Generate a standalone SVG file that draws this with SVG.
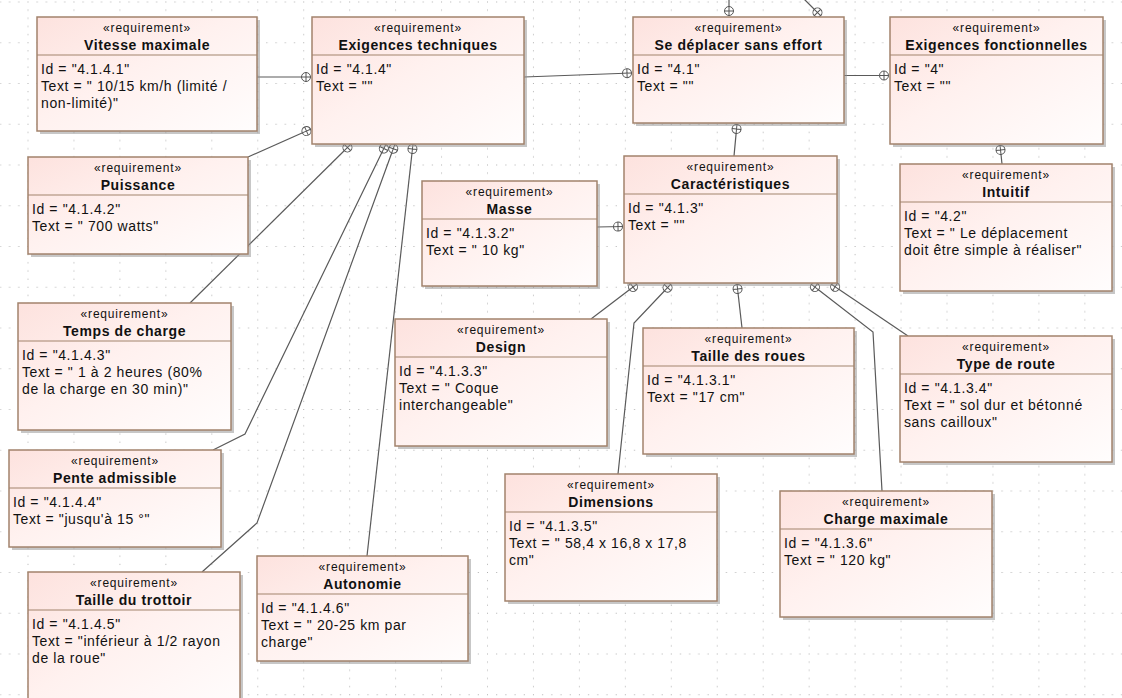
<svg xmlns="http://www.w3.org/2000/svg" width="1122" height="698" viewBox="0 0 1122 698">
<style>
.b{fill:url(#g);stroke:#a2836c;stroke-width:1.5}
.sh{fill:#8f8f8f;opacity:.5}
.sep{stroke:#a2836c;stroke-width:1.2}
.st{font-family:"Liberation Sans",Arial,sans-serif;font-size:12px;letter-spacing:.8px;text-anchor:middle;fill:#111}
.ti{font-family:"Liberation Sans",Arial,sans-serif;font-size:14px;font-weight:bold;letter-spacing:.6px;text-anchor:middle;fill:#111}
.tx{font-family:"Liberation Sans",Arial,sans-serif;font-size:14px;letter-spacing:.6px;fill:#111}
.cn{fill:none;stroke:#5a5a5a;stroke-width:1.2;marker-end:url(#cont)}
</style>
<defs>
<linearGradient id="g" x1="0" y1="0" x2="1" y2="1">
<stop offset="0" stop-color="#fde2de"/>
<stop offset="0.45" stop-color="#fff1ef"/>
<stop offset="1" stop-color="#fffdfd"/>
</linearGradient>
<pattern id="grid" x="27.5" y="1.5" width="45.95" height="40.75" patternUnits="userSpaceOnUse">
<g fill="#b0b0b0">
<rect x="0" y="0" width="1" height="1"/><rect x="9.19" y="0" width="1" height="1"/><rect x="18.38" y="0" width="1" height="1"/><rect x="27.57" y="0" width="1" height="1"/><rect x="36.76" y="0" width="1" height="1"/>
<rect x="0" y="8.15" width="1" height="1"/><rect x="0" y="16.3" width="1" height="1"/><rect x="0" y="24.45" width="1" height="1"/><rect x="0" y="32.6" width="1" height="1"/>
</g>
</pattern>
<marker id="cont" markerUnits="userSpaceOnUse" markerWidth="12" markerHeight="12" viewBox="-11 -6 12 12" refX="0" refY="0" orient="auto" overflow="visible">
<circle cx="-5" cy="0" r="4.5" fill="#fff" stroke="#555" stroke-width="1"/>
<path d="M-9.5 0H-0.5M-5 -4.5V4.5" stroke="#555" stroke-width="1"/>
</marker>
</defs>
<rect width="1122" height="698" fill="#fff"/>
<rect width="1122" height="698" fill="url(#grid)"/>

<g id="connectors">
<path class="cn" d="M257 77 L311 77"/>
<path class="cn" d="M248 157 L311 129"/>
<path class="cn" d="M190 303 L351 144"/>
<path class="cn" d="M213 450 L245 434 L386 144"/>
<path class="cn" d="M202 572 L257 523 L395 144"/>
<path class="cn" d="M367 556 L413 144"/>
<path class="cn" d="M524 77 L632 73"/>
<path class="cn" d="M844 75.5 L889 75.5"/>
<path class="cn" d="M734 156 L737 124"/>
<path class="cn" d="M1002 164 L1000 145"/>
<path class="cn" d="M597 227 L623 226.5"/>
<path class="cn" d="M591 319 L637 284"/>
<path class="cn" d="M618 474 L634 323 L671 284"/>
<path class="cn" d="M742 328 L737 284"/>
<path class="cn" d="M882 491 L873 332 L811 284"/>
<path class="cn" d="M908 336 L831 284"/>
<path class="cn" d="M729 -10 L729 16"/>
<path class="cn" d="M804 -1 L821 16"/>
</g>

<g id="n-vitesse" transform="translate(37,17)">
<rect class="sh" x="3" y="3" width="220" height="114"/><rect class="b" width="220" height="114"/><line class="sep" x1="0" y1="38" x2="220" y2="38"/>
<text class="st" x="110" y="14.5">«requirement»</text><text class="ti" x="110" y="33">Vitesse maximale</text>
<text class="tx" x="4" y="56.5">Id = "4.1.4.1"</text><text class="tx" x="4" y="73.5">Text = " 10/15 km/h (limité /</text><text class="tx" x="4" y="90.5">non-limité)"</text>
</g>

<g id="n-exigtech" transform="translate(312,17)">
<rect class="sh" x="3" y="3" width="212" height="127"/><rect class="b" width="212" height="127"/><line class="sep" x1="0" y1="38" x2="212" y2="38"/>
<text class="st" x="106" y="14.5">«requirement»</text><text class="ti" x="106" y="33">Exigences techniques</text>
<text class="tx" x="4" y="56.5">Id = "4.1.4"</text><text class="tx" x="4" y="73.5">Text = ""</text>
</g>

<g id="n-sedeplacer" transform="translate(633,17)">
<rect class="sh" x="3" y="3" width="211" height="106"/><rect class="b" width="211" height="106"/><line class="sep" x1="0" y1="38" x2="211" y2="38"/>
<text class="st" x="105.5" y="14.5">«requirement»</text><text class="ti" x="105.5" y="33">Se déplacer sans effort</text>
<text class="tx" x="4" y="56.5">Id = "4.1"</text><text class="tx" x="4" y="73.5">Text = ""</text>
</g>

<g id="n-exigfonc" transform="translate(890,17)">
<rect class="sh" x="3" y="3" width="213" height="127"/><rect class="b" width="213" height="127"/><line class="sep" x1="0" y1="38" x2="213" y2="38"/>
<text class="st" x="106.5" y="14.5">«requirement»</text><text class="ti" x="106.5" y="33">Exigences fonctionnelles</text>
<text class="tx" x="4" y="56.5">Id = "4"</text><text class="tx" x="4" y="73.5">Text = ""</text>
</g>

<g id="n-puissance" transform="translate(28,157)">
<rect class="sh" x="3" y="3" width="220" height="97"/><rect class="b" width="220" height="97"/><line class="sep" x1="0" y1="38" x2="220" y2="38"/>
<text class="st" x="110" y="14.5">«requirement»</text><text class="ti" x="110" y="33">Puissance</text>
<text class="tx" x="4" y="56.5">Id = "4.1.4.2"</text><text class="tx" x="4" y="73.5">Text = " 700 watts"</text>
</g>

<g id="n-caracteristiques" transform="translate(624,156)">
<rect class="sh" x="3" y="3" width="213" height="127"/><rect class="b" width="213" height="127"/><line class="sep" x1="0" y1="38" x2="213" y2="38"/>
<text class="st" x="106.5" y="14.5">«requirement»</text><text class="ti" x="106.5" y="33">Caractéristiques</text>
<text class="tx" x="4" y="56.5">Id = "4.1.3"</text><text class="tx" x="4" y="73.5">Text = ""</text>
</g>

<g id="n-intuitif" transform="translate(900,164)">
<rect class="sh" x="3" y="3" width="212" height="127"/><rect class="b" width="212" height="127"/><line class="sep" x1="0" y1="38" x2="212" y2="38"/>
<text class="st" x="106" y="14.5">«requirement»</text><text class="ti" x="106" y="33">Intuitif</text>
<text class="tx" x="4" y="56.5">Id = "4.2"</text><text class="tx" x="4" y="73.5">Text = " Le déplacement</text><text class="tx" x="4" y="90.5">doit être simple à réaliser"</text>
</g>

<g id="n-masse" transform="translate(422,181)">
<rect class="sh" x="3" y="3" width="175" height="105"/><rect class="b" width="175" height="105"/><line class="sep" x1="0" y1="38" x2="175" y2="38"/>
<text class="st" x="87.5" y="14.5">«requirement»</text><text class="ti" x="87.5" y="33">Masse</text>
<text class="tx" x="4" y="56.5">Id = "4.1.3.2"</text><text class="tx" x="4" y="73.5">Text = " 10 kg"</text>
</g>

<g id="n-temps" transform="translate(18,303)">
<rect class="sh" x="3" y="3" width="213" height="127"/><rect class="b" width="213" height="127"/><line class="sep" x1="0" y1="38" x2="213" y2="38"/>
<text class="st" x="106.5" y="14.5">«requirement»</text><text class="ti" x="106.5" y="33">Temps de charge</text>
<text class="tx" x="4" y="56.5">Id = "4.1.4.3"</text><text class="tx" x="4" y="73.5">Text = " 1 à 2 heures (80%</text><text class="tx" x="4" y="90.5">de la charge en 30 min)"</text>
</g>

<g id="n-design" transform="translate(395,319)">
<rect class="sh" x="3" y="3" width="212" height="127"/><rect class="b" width="212" height="127"/><line class="sep" x1="0" y1="38" x2="212" y2="38"/>
<text class="st" x="106" y="14.5">«requirement»</text><text class="ti" x="106" y="33">Design</text>
<text class="tx" x="4" y="56.5">Id = "4.1.3.3"</text><text class="tx" x="4" y="73.5">Text = " Coque</text><text class="tx" x="4" y="90.5">interchangeable"</text>
</g>

<g id="n-tailleroues" transform="translate(643,328)">
<rect class="sh" x="3" y="3" width="211" height="126"/><rect class="b" width="211" height="126"/><line class="sep" x1="0" y1="38" x2="211" y2="38"/>
<text class="st" x="105.5" y="14.5">«requirement»</text><text class="ti" x="105.5" y="33">Taille des roues</text>
<text class="tx" x="4" y="56.5">Id = "4.1.3.1"</text><text class="tx" x="4" y="73.5">Text = "17 cm"</text>
</g>

<g id="n-typeroute" transform="translate(900,336)">
<rect class="sh" x="3" y="3" width="212" height="126"/><rect class="b" width="212" height="126"/><line class="sep" x1="0" y1="38" x2="212" y2="38"/>
<text class="st" x="106" y="14.5">«requirement»</text><text class="ti" x="106" y="33">Type de route</text>
<text class="tx" x="4" y="56.5">Id = "4.1.3.4"</text><text class="tx" x="4" y="73.5">Text = " sol dur et bétonné</text><text class="tx" x="4" y="90.5">sans cailloux"</text>
</g>

<g id="n-pente" transform="translate(9,450)">
<rect class="sh" x="3" y="3" width="212" height="97"/><rect class="b" width="212" height="97"/><line class="sep" x1="0" y1="38" x2="212" y2="38"/>
<text class="st" x="106" y="14.5">«requirement»</text><text class="ti" x="106" y="33">Pente admissible</text>
<text class="tx" x="4" y="56.5">Id = "4.1.4.4"</text><text class="tx" x="4" y="73.5">Text = "jusqu'à 15 °"</text>
</g>

<g id="n-dimensions" transform="translate(505,474)">
<rect class="sh" x="3" y="3" width="212" height="127"/><rect class="b" width="212" height="127"/><line class="sep" x1="0" y1="38" x2="212" y2="38"/>
<text class="st" x="106" y="14.5">«requirement»</text><text class="ti" x="106" y="33">Dimensions</text>
<text class="tx" x="4" y="56.5">Id = "4.1.3.5"</text><text class="tx" x="4" y="73.5">Text = " 58,4 x 16,8 x 17,8</text><text class="tx" x="4" y="90.5">cm"</text>
</g>

<g id="n-chargemax" transform="translate(780,491)">
<rect class="sh" x="3" y="3" width="212" height="126"/><rect class="b" width="212" height="126"/><line class="sep" x1="0" y1="38" x2="212" y2="38"/>
<text class="st" x="106" y="14.5">«requirement»</text><text class="ti" x="106" y="33">Charge maximale</text>
<text class="tx" x="4" y="56.5">Id = "4.1.3.6"</text><text class="tx" x="4" y="73.5">Text = " 120 kg"</text>
</g>

<g id="n-autonomie" transform="translate(257,556)">
<rect class="sh" x="3" y="3" width="211" height="105"/><rect class="b" width="211" height="105"/><line class="sep" x1="0" y1="38" x2="211" y2="38"/>
<text class="st" x="105.5" y="14.5">«requirement»</text><text class="ti" x="105.5" y="33">Autonomie</text>
<text class="tx" x="4" y="56.5">Id = "4.1.4.6"</text><text class="tx" x="4" y="73.5">Text = " 20-25 km par</text><text class="tx" x="4" y="90.5">charge"</text>
</g>

<g id="n-trottoir" transform="translate(28,572)">
<rect class="sh" x="3" y="3" width="212" height="140"/><rect class="b" width="212" height="140"/><line class="sep" x1="0" y1="38" x2="212" y2="38"/>
<text class="st" x="106" y="14.5">«requirement»</text><text class="ti" x="106" y="33">Taille du trottoir</text>
<text class="tx" x="4" y="56.5">Id = "4.1.4.5"</text><text class="tx" x="4" y="73.5">Text = "inférieur à 1/2 rayon</text><text class="tx" x="4" y="90.5">de la roue"</text>
</g>
</svg>
